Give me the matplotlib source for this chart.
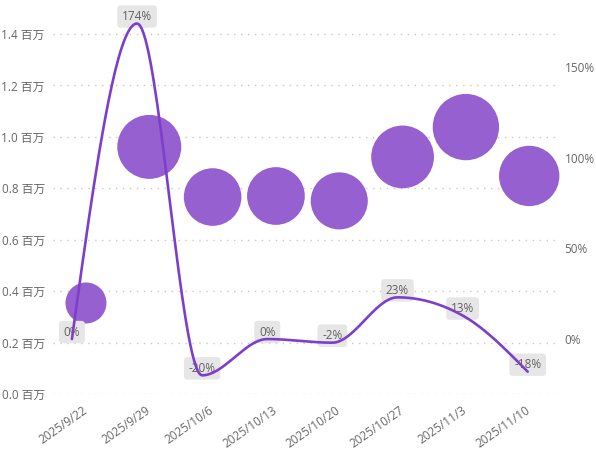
import numpy as np
import matplotlib
matplotlib.use("Agg")
import matplotlib.pyplot as plt
import matplotlib.transforms as mtransforms

plt.rcParams['font.family'] = ['Open Sans', 'Noto Sans CJK SC', 'DejaVu Sans']

# weekly data
dates = ["2025/9/22", "2025/9/29", "2025/10/6", "2025/10/13",
         "2025/10/20", "2025/10/27", "2025/11/3", "2025/11/10"]
volume = [0.354, 0.961, 0.766, 0.770, 0.751, 0.922, 1.038, 0.848]   # 百万
growth = [0, 174, -20, 0, -2, 23, 13, -18]                           # %
growth_labels = ["0%", "174%", "-20%", "0%", "-2%", "23%", "13%", "-18%"]
left_ticks = [0.0, 0.2, 0.4, 0.6, 0.8, 1.0, 1.2, 1.4]
right_ticks = [0, 50, 100, 150]

bubble_color = "#9660D0"
line_color = "#7D3FCB"
text_color = "#666666"


def monotone_x(x, y, n=40):
    # smooth line through the points, like d3 curveMonotoneX
    x = np.asarray(x, float)
    y = np.asarray(y, float)
    h = np.diff(x)
    s = np.diff(y) / h
    t = np.zeros_like(y)
    for i in range(1, len(y) - 1):
        p = (s[i - 1] * h[i] + s[i] * h[i - 1]) / (h[i - 1] + h[i])
        t[i] = (np.sign(s[i - 1]) + np.sign(s[i])) * min(abs(s[i - 1]), abs(s[i]), 0.5 * abs(p))
    t[0] = (3 * s[0] - t[1]) / 2
    t[-1] = (3 * s[-1] - t[-2]) / 2
    xs, ys = [], []
    for i in range(len(h)):
        u = np.linspace(0, 1, n)
        h00 = 2 * u**3 - 3 * u**2 + 1
        h10 = u**3 - 2 * u**2 + u
        h01 = -2 * u**3 + 3 * u**2
        h11 = u**3 - u**2
        xs.append(x[i] + u * h[i])
        ys.append(h00 * y[i] + h10 * h[i] * t[i] + h01 * y[i + 1] + h11 * h[i] * t[i + 1])
    return np.concatenate(xs), np.concatenate(ys)


fig = plt.figure(figsize=(5.96, 4.70), dpi=100)
rect = [0.089, 0.1617, 0.851, 0.7933]
ax = fig.add_axes(rect)

idx = np.arange(len(dates))
vol = np.array(volume)
# bubble area grows with the value
sizes = (0.72 ** 2) * (276 + 3969 * vol)
ax.scatter(idx, vol, s=sizes, color=bubble_color, edgecolors="none", zorder=3)

ax.set_xlim(-0.52, 7.49)
ax.set_ylim(0, 1.45)
ax.set_yticks(left_ticks)
ax.set_yticklabels([f"{v:.1f} 百万" for v in left_ticks])
ax.set_xticks(idx)
ax.set_xticklabels(dates, rotation=35, ha="right", rotation_mode="anchor")
ax.tick_params(axis="both", length=0, labelsize=8.5, colors=text_color)
ax.tick_params(axis="y", pad=6)
ax.tick_params(axis="x", pad=7)
shift = mtransforms.ScaledTranslation(-4 / 100, 0, fig.dpi_scale_trans)
for lab in ax.get_xticklabels():
    lab.set_transform(lab.get_transform() + shift)
ax.grid(axis="y", color="#C8C8C8", linestyle=(0, (1, 4)), linewidth=1)
ax.set_axisbelow(True)
for sp in ax.spines.values():
    sp.set_visible(False)

# growth line on its own axes
ax2 = fig.add_axes(rect)
ax2.patch.set_visible(False)
lx, ly = monotone_x(idx, growth)
ax2.plot(lx, ly, color=line_color, linewidth=1.9, solid_capstyle="round", zorder=3)
for i, lab in enumerate(growth_labels):
    ax2.annotate(lab, (idx[i], growth[i]), xytext=(0, 7), textcoords="offset pixels",
                 ha="center", va="center", fontsize=8.5, color="#606060", zorder=2,
                 bbox=dict(boxstyle="round,pad=0.4,rounding_size=0.3", fc="#E6E6E6", ec="none"))
ax2.set_xlim(-0.29, 7.50)
ax2.set_ylim(-30.3, 175.3)
ax2.set_xticks([])
ax2.yaxis.tick_right()
ax2.set_yticks(right_ticks)
ax2.set_yticklabels([f"{v}%" for v in right_ticks])
ax2.tick_params(axis="y", length=0, labelsize=8.5, colors=text_color, pad=3)
for sp in ax2.spines.values():
    sp.set_visible(False)

fig.savefig("out.png", dpi=100)
